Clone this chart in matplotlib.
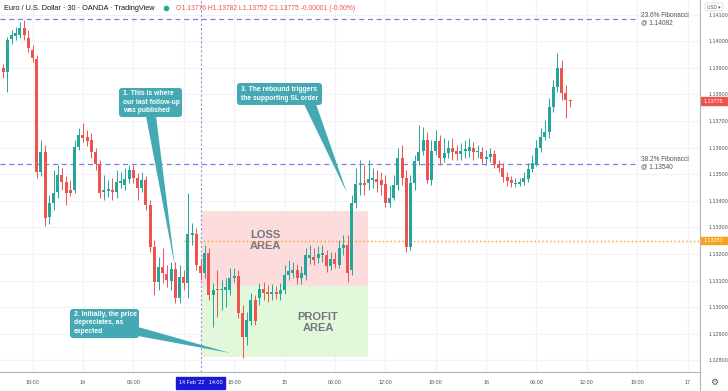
import numpy as np
import matplotlib.pyplot as plt
from matplotlib.patches import FancyBboxPatch, Polygon, Rectangle
from matplotlib.lines import Line2D

plt.rcParams['font.family'] = ['Liberation Sans', 'DejaVu Sans']

# EUR/USD 30m candles, bar 0 = 14 Feb '22 14:00
first_bar = -47
opens = [
    1.13899, 1.13884, 1.14008, 1.14020, 1.14023, 1.14050, 1.14012, 1.13967,
    1.13933, 1.13508, 1.13583, 1.13339, 1.13392, 1.13433, 1.13497, 1.13471,
    1.13441, 1.13441, 1.13602, 1.13647, 1.13640, 1.13629, 1.13583, 1.13538,
    1.13433, 1.13437, 1.13441, 1.13433, 1.13467, 1.13459, 1.13482, 1.13516,
    1.13486, 1.13448, 1.13478, 1.13384, 1.13226, 1.13095, 1.13151, 1.13125,
    1.13098, 1.13144, 1.13035, 1.13113, 1.13091, 1.13271, 1.13275, 1.13155,
    1.13129, 1.13204, 1.13046, 1.13068, 1.13065, 1.13065, 1.13065, 1.13110,
    1.13117, 1.12978, 1.12888, 1.12948, 1.13027, 1.13035, 1.13068, 1.13057,
    1.13050, 1.13057, 1.13050, 1.13065, 1.13121, 1.13129, 1.13140, 1.13110,
    1.13121, 1.13185, 1.13189, 1.13185, 1.13196, 1.13196, 1.13155, 1.13181,
    1.13159, 1.13223, 1.13234, 1.13140, 1.13392, 1.13459, 1.13467, 1.13467,
    1.13478, 1.13482, 1.13478, 1.13463, 1.13392, 1.13411, 1.13459, 1.13561,
    1.13486, 1.13226, 1.13467, 1.13550, 1.13587, 1.13629, 1.13478, 1.13587,
    1.13625, 1.13561, 1.13580, 1.13599, 1.13587, 1.13576, 1.13587, 1.13587,
    1.13599, 1.13583, 1.13583, 1.13557, 1.13565, 1.13576, 1.13538, 1.13523,
    1.13489, 1.13478, 1.13463, 1.13463, 1.13471, 1.13482, 1.13520, 1.13538,
    1.13599, 1.13640, 1.13659, 1.13753, 1.13828, 1.13899, 1.13805, 1.13776,
]
highs = [
    1.13914, 1.14016, 1.14042, 1.14053, 1.14072, 1.14080, 1.14042, 1.13986,
    1.13948, 1.13629, 1.13610, 1.13422, 1.13516, 1.13535, 1.13523, 1.13493,
    1.13478, 1.13629, 1.13674, 1.13693, 1.13666, 1.13655, 1.13599, 1.13553,
    1.13497, 1.13478, 1.13486, 1.13516, 1.13508, 1.13523, 1.13535, 1.13535,
    1.13505, 1.13508, 1.13493, 1.13403, 1.13253, 1.13189, 1.13223, 1.13159,
    1.13170, 1.13170, 1.13159, 1.13140, 1.13429, 1.13317, 1.13298, 1.13185,
    1.13234, 1.13223, 1.13091, 1.13140, 1.13102, 1.13110, 1.13147, 1.13147,
    1.13140, 1.13008, 1.12982, 1.13053, 1.13046, 1.13091, 1.13095, 1.13083,
    1.13087, 1.13080, 1.13091, 1.13159, 1.13177, 1.13170, 1.13162, 1.13155,
    1.13223, 1.13234, 1.13223, 1.13230, 1.13234, 1.13215, 1.13207, 1.13207,
    1.13253, 1.13271, 1.13271, 1.13422, 1.13523, 1.13553, 1.13535, 1.13553,
    1.13523, 1.13516, 1.13508, 1.13497, 1.13459, 1.13497, 1.13599, 1.13610,
    1.13516, 1.13497, 1.13572, 1.13685, 1.13677, 1.13659, 1.13629, 1.13666,
    1.13647, 1.13636, 1.13629, 1.13636, 1.13610, 1.13617, 1.13629, 1.13636,
    1.13621, 1.13610, 1.13602, 1.13591, 1.13599, 1.13591, 1.13553, 1.13542,
    1.13508, 1.13493, 1.13486, 1.13486, 1.13508, 1.13542, 1.13572, 1.13629,
    1.13674, 1.13704, 1.13787, 1.13854, 1.13956, 1.13929, 1.13835, 1.13782,
]
lows = [
    1.13862, 1.13809, 1.13990, 1.14005, 1.14012, 1.14005, 1.13959, 1.13922,
    1.13486, 1.13493, 1.13305, 1.13313, 1.13365, 1.13411, 1.13441, 1.13384,
    1.13418, 1.13429, 1.13591, 1.13621, 1.13606, 1.13561, 1.13516, 1.13411,
    1.13403, 1.13414, 1.13403, 1.13411, 1.13448, 1.13441, 1.13467, 1.13467,
    1.13403, 1.13433, 1.13365, 1.13207, 1.13046, 1.13065, 1.13091, 1.13076,
    1.13065, 1.13016, 1.13016, 1.13065, 1.13035, 1.13234, 1.13140, 1.13102,
    1.13110, 1.13027, 1.12925, 1.12963, 1.12989, 1.13001, 1.13046, 1.13095,
    1.12959, 1.12809, 1.12858, 1.12933, 1.12933, 1.13008, 1.13027, 1.13019,
    1.13027, 1.13031, 1.13027, 1.13050, 1.13102, 1.13110, 1.13087, 1.13087,
    1.13102, 1.13162, 1.13159, 1.13166, 1.13170, 1.13132, 1.13140, 1.13147,
    1.13147, 1.13196, 1.13095, 1.13121, 1.13373, 1.13422, 1.13422, 1.13441,
    1.13448, 1.13433, 1.13422, 1.13377, 1.13377, 1.13403, 1.13441, 1.13459,
    1.13207, 1.13215, 1.13441, 1.13535, 1.13572, 1.13467, 1.13459, 1.13572,
    1.13535, 1.13546, 1.13561, 1.13553, 1.13553, 1.13553, 1.13561, 1.13565,
    1.13553, 1.13561, 1.13542, 1.13535, 1.13546, 1.13523, 1.13508, 1.13471,
    1.13456, 1.13452, 1.13452, 1.13456, 1.13459, 1.13471, 1.13508, 1.13531,
    1.13583, 1.13629, 1.13636, 1.13734, 1.13809, 1.13779, 1.13711, 1.13752,
]
closes = [
    1.13884, 1.14005, 1.14023, 1.14031, 1.14050, 1.14023, 1.13975, 1.13937,
    1.13508, 1.13583, 1.13335, 1.13392, 1.13429, 1.13497, 1.13471, 1.13429,
    1.13429, 1.13602, 1.13647, 1.13636, 1.13625, 1.13583, 1.13538, 1.13429,
    1.13441, 1.13444, 1.13433, 1.13471, 1.13474, 1.13482, 1.13516, 1.13486,
    1.13448, 1.13478, 1.13384, 1.13226, 1.13095, 1.13151, 1.13129, 1.13102,
    1.13144, 1.13035, 1.13113, 1.13091, 1.13275, 1.13279, 1.13159, 1.13129,
    1.13204, 1.13046, 1.13065, 1.13065, 1.13068, 1.13076, 1.13110, 1.13117,
    1.12978, 1.12888, 1.12952, 1.13027, 1.12948, 1.13068, 1.13053, 1.13050,
    1.13057, 1.13050, 1.13065, 1.13121, 1.13136, 1.13140, 1.13110, 1.13129,
    1.13196, 1.13196, 1.13177, 1.13200, 1.13204, 1.13155, 1.13181, 1.13162,
    1.13223, 1.13234, 1.13129, 1.13392, 1.13463, 1.13467, 1.13459, 1.13482,
    1.13486, 1.13471, 1.13459, 1.13392, 1.13411, 1.13459, 1.13561, 1.13486,
    1.13226, 1.13467, 1.13550, 1.13583, 1.13629, 1.13478, 1.13587, 1.13625,
    1.13561, 1.13580, 1.13599, 1.13583, 1.13576, 1.13587, 1.13595, 1.13602,
    1.13583, 1.13587, 1.13557, 1.13565, 1.13576, 1.13538, 1.13523, 1.13489,
    1.13474, 1.13467, 1.13467, 1.13471, 1.13486, 1.13520, 1.13542, 1.13599,
    1.13640, 1.13659, 1.13753, 1.13828, 1.13899, 1.13805, 1.13779, 1.13775,
]

time_ticks = [-40, -28, -16, 8, 20, 32, 44, 56, 68, 80, 92, 104, 116]
time_labels = ['18:00', '14', '06:00', '18:00', '15', '06:00', '12:00',
               '18:00', '16', '06:00', '12:00', '18:00', '17']
price_ticks = [1.128, 1.129, 1.130, 1.131, 1.132, 1.133, 1.134, 1.135,
               1.136, 1.137, 1.138, 1.139, 1.140, 1.141]

fib_levels = [1.14082, 1.13540]
fib_names = ['23.6% Fibonacci', '38.2% Fibonacci']
entry_price = 1.13081
stop_price = 1.13363
target_price = 1.12814
sl_order = 1.13250
last_price = 1.13775

UP = '#26a69a'
DOWN = '#ef5350'
GRID = '#f0f3fa'
TEAL = '#45a9b4'

W, H = 728, 391
fig = plt.figure(figsize=(W / 100, H / 100), dpi=100)
ax = fig.add_axes([0, 19 / H, 700 / W, 372 / H])
ax.set_xlim(-47.74, 118.93)
ax.set_ylim(1.12756, 1.14155)
for s in ax.spines.values():
    s.set_visible(False)

# grid
for p in price_ticks:
    ax.axhline(p, color=GRID, lw=0.9, zorder=0)
for t in time_ticks + [-4]:
    ax.axvline(t, color=GRID, lw=0.9, zorder=0)

ax.yaxis.tick_right()
ax.set_yticks(price_ticks, [f'{p:.5f}' for p in price_ticks])
ax.set_xticks(time_ticks, time_labels)
ax.tick_params(axis='y', length=0, pad=6.5, labelsize=3.9, labelcolor='#50535e')
ax.tick_params(axis='x', length=0, pad=5.5, labelsize=3.9, labelcolor='#50535e')

# loss / profit zones
ax.fill_between([0.3, 39.8], entry_price, stop_price, color='#fcdcdd', lw=0, zorder=1)
ax.fill_between([0.3, 39.8], target_price, entry_price, color='#e2f8da', lw=0, zorder=1)
ax.text(15.4, 1.13250, 'LOSS\nAREA', ha='center', va='center', fontsize=8,
        color='#737682', linespacing=1.15, fontweight='bold', zorder=2)
ax.text(28.0, 1.12941, 'PROFIT\nAREA', ha='center', va='center', fontsize=8,
        color='#737682', linespacing=1.15, fontweight='bold', zorder=2)

# levels
for lvl, name in zip(fib_levels, fib_names):
    ax.hlines(lvl, -47.74, 103.7, colors='#7b7bea', linestyles=(0, (4, 3)), lw=0.9, zorder=2)
    ax.text(105.0, lvl, f'{name}\n@ {lvl:.5f}', ha='left', va='center', fontsize=4.7,
            color='#50535e', linespacing=1.05, zorder=3)
ax.hlines(sl_order, -4, 118.93, colors='#f7a21b', linestyles=(0, (1, 1.8)), lw=1.0, zorder=2)
ax.axvline(0, color='#9b8fd8', ls=(0, (2, 2)), lw=0.8, zorder=2)

# candles
bars = np.arange(first_bar, first_bar + len(opens))
o = np.array(opens)
c = np.array(closes)
colors = [UP if cc >= oo else DOWN for oo, cc in zip(o, c)]
ax.vlines(bars, lows, highs, colors=colors, lw=0.7, zorder=4)
body = np.maximum(np.abs(c - o), 0.000025)
ax.bar(bars, body, bottom=np.minimum(o, c), width=0.72, color=colors, lw=0, zorder=5)

# price labels on the scale
ytr = ax.get_yaxis_transform()
for price, col in [(last_price, DOWN), (sl_order, '#f7a21b')]:
    ax.add_patch(Rectangle((1.001, price - 0.00014), 0.037, 0.00028, transform=ytr,
                           color=col, clip_on=False, zorder=6))
    ax.text(1.0196, price, f'{price:.5f}', transform=ytr, ha='center', va='center',
            fontsize=3.9, color='white', clip_on=False, zorder=7)

# overlay in pixel units for chart furniture
ov = fig.add_axes([0, 0, 1, 1], facecolor='none')
ov.set_xlim(0, W)
ov.set_ylim(H, 0)
ov.axis('off')
ov.add_line(Line2D([700, 700], [0, H], color='#b2b5be', lw=0.8))
ov.add_line(Line2D([0, 700], [372, 372], color='#b2b5be', lw=0.8))

ov.text(4, 8, 'Euro / U.S. Dollar · 30 · OANDA · TradingView', fontsize=5.3,
        color='#131722', va='center')
ov.plot([165.5], [8], 'o', ms=3, color='#26a69a')
ov.text(176, 8, 'O1.13776 H1.13782 L1.13752 C1.13775 -0.00001 (-0.00%)', fontsize=4.85,
        color=DOWN, va='center')

ov.add_patch(FancyBboxPatch((705, 3), 18, 8, boxstyle='round,pad=0,rounding_size=2',
                            fc='white', ec='#d1d4dc', lw=0.5))
ov.text(714, 7.2, 'USD ▾', fontsize=3.4, color='#50535e', ha='center', va='center')
ov.text(714, 382, '⚙', fontsize=6.5, color='#50535e', ha='center', va='center',
        family='DejaVu Sans')

ov.add_patch(Rectangle((176, 377), 49, 12, color='#1a1ad6'))
ov.text(200.5, 383, "14 Feb '22   14:00", fontsize=3.9, color='white', ha='center', va='center')

# callouts
callouts = [
    ((119, 88, 63, 29), [(146, 116), (156, 116), (175, 267)],
     '1. This is where\nour last follow-up\nwas published', (123, 102)),
    ((70, 309, 69, 29), [(138, 327), (138, 336), (230, 353)],
     '2. Initially, the price\ndepreciates, as\nexpected', (74, 323)),
    ((237, 83, 85, 22), [(304, 104), (316, 104), (347, 193)],
     '3. The rebound triggers\nthe supporting SL order', (241, 94)),
]
for (bx, by, bw, bh), tail, text, (tx, ty) in callouts:
    ov.add_patch(Polygon(tail, closed=True, color=TEAL, lw=0))
    ov.add_patch(FancyBboxPatch((bx, by), bw, bh, boxstyle='round,pad=0,rounding_size=3',
                                color=TEAL, lw=0))
    ov.text(tx, ty, text, fontsize=4.9, color='white', ha='left', va='center',
            linespacing=1.35, fontweight='bold')

fig.savefig('out.png', dpi=100)
